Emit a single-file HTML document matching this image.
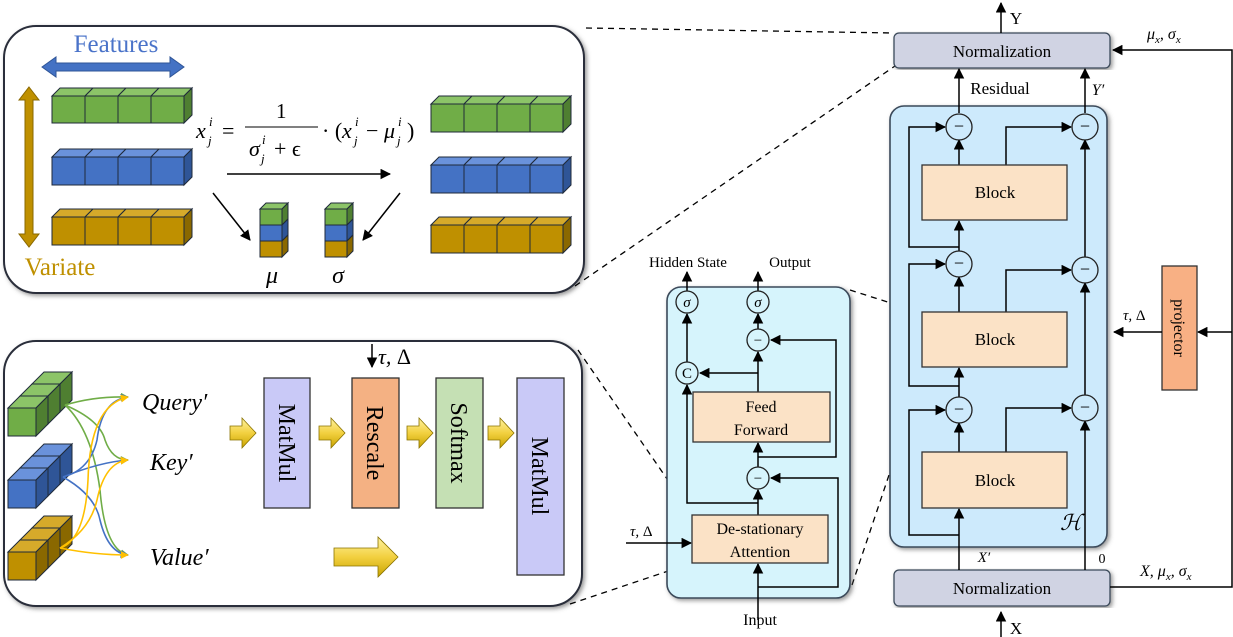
<!DOCTYPE html>
<html><head><meta charset="utf-8">
<style>
html,body{margin:0;padding:0;background:#fff;}
svg{display:block;font-family:"Liberation Serif",serif;}
</style></head>
<body>
<svg id="s" width="1233" height="637" viewBox="0 0 1233 637" xmlns="http://www.w3.org/2000/svg">
<defs>
<marker id="ah" viewBox="0 0 10 10" refX="9" refY="5" markerWidth="7" markerHeight="7" orient="auto-start-reverse"><path d="M0,0 L10,5 L0,10 z" fill="#000"/></marker>
<marker id="ahg" viewBox="0 0 10 10" refX="9" refY="5" markerWidth="5" markerHeight="5" orient="auto"><path d="M0,0 L10,5 L0,10 z" fill="#70AD47"/></marker>
<marker id="ahb" viewBox="0 0 10 10" refX="9" refY="5" markerWidth="5" markerHeight="5" orient="auto"><path d="M0,0 L10,5 L0,10 z" fill="#4472C4"/></marker>
<marker id="ahy" viewBox="0 0 10 10" refX="9" refY="5" markerWidth="5" markerHeight="5" orient="auto"><path d="M0,0 L10,5 L0,10 z" fill="#FFC000"/></marker>
<linearGradient id="yel" x1="0" y1="0" x2="0" y2="1"><stop offset="0" stop-color="#fff3a0"/><stop offset="0.5" stop-color="#f2d040"/><stop offset="1" stop-color="#c9a400"/></linearGradient>
<filter id="sh" x="-5%" y="-5%" width="110%" height="110%"><feDropShadow dx="2" dy="2" stdDeviation="2" flood-color="#555" flood-opacity="0.6"/></filter>
</defs>

<rect x="4" y="26" width="580" height="267" rx="32" fill="#fff" stroke="#2a2f3a" stroke-width="2" filter="url(#sh)"/>
<rect x="4" y="341" width="578" height="265" rx="32" fill="#fff" stroke="#2a2f3a" stroke-width="2" filter="url(#sh)"/>

<g stroke="#000" stroke-width="1.3" stroke-dasharray="6,5" fill="none">
<line x1="586" y1="28" x2="893" y2="33"/>
<line x1="575" y1="286" x2="895" y2="66"/>
<line x1="578" y1="350" x2="692" y2="515"/>
<line x1="570" y1="604" x2="692" y2="563"/>
<line x1="850" y1="290" x2="922" y2="313"/>
<line x1="852" y1="585" x2="925" y2="368"/>
</g>

<text x="116" y="52" font-size="25" fill="#4a73c9" text-anchor="middle">Features</text>
<path d="M42,67 L56,57 L56,63 L170,63 L170,57 L184,67 L170,77 L170,71 L56,71 L56,77 Z" fill="#4472C4" stroke="#2f5597" stroke-width="1"/>
<path d="M29,87 L39,100 L33,100 L33,234 L39,234 L29,247 L19,234 L25,234 L25,100 L19,100 Z" fill="#BF9000" stroke="#8a6800" stroke-width="1"/>
<text x="60" y="275" font-size="25" fill="#BF9000" text-anchor="middle">Variate</text>
<g id="cubes"></g>

<!-- formula -->
<g font-size="22" font-style="italic">
<text x="196" y="138">x</text>
<text x="208" y="145" font-size="13">j</text>
<text x="209" y="126" font-size="13">i</text>
<text x="222" y="138" font-style="normal">=</text>
<text x="276" y="118" font-style="normal" font-size="21">1</text>
<line x1="245" y1="127" x2="318" y2="127" stroke="#000" stroke-width="1"/>
<text x="249" y="156">σ</text>
<text x="261" y="163" font-size="13">j</text>
<text x="262" y="144" font-size="13">i</text>
<text x="274" y="156" font-style="normal">+ ϵ</text>
<text x="322" y="138" font-style="normal">· (</text>
<text x="342" y="138">x</text>
<text x="354" y="145" font-size="13">j</text>
<text x="355" y="126" font-size="13">i</text>
<text x="366" y="138" font-style="normal">−</text>
<text x="384" y="138">μ</text>
<text x="397" y="145" font-size="13">j</text>
<text x="398" y="126" font-size="13">i</text>
<text x="407" y="138" font-style="normal">)</text>
</g>
<line x1="227" y1="174" x2="390" y2="174" stroke="#000" stroke-width="1.5" marker-end="url(#ah)"/>
<line x1="213" y1="193" x2="250" y2="240" stroke="#000" stroke-width="1.5" marker-end="url(#ah)"/>
<line x1="400" y1="193" x2="363" y2="240" stroke="#000" stroke-width="1.5" marker-end="url(#ah)"/>
<text x="272" y="283" font-size="24" font-style="italic" text-anchor="middle">μ</text>
<text x="338" y="283" font-size="24" font-style="italic" text-anchor="middle">σ</text>

<g fill="none" stroke-width="1.6">
<path d="M65,405 Q95,396 128,397" stroke="#70AD47" marker-end="url(#ahg)"/>
<path d="M65,405 Q100,420 105,440 Q112,460 128,460" stroke="#70AD47" marker-end="url(#ahg)"/>
<path d="M65,405 Q92,430 100,490 Q105,550 128,555" stroke="#70AD47" marker-end="url(#ahg)"/>
<path d="M63,477 Q90,470 97,440 Q102,400 128,397" stroke="#4472C4" marker-end="url(#ahb)"/>
<path d="M63,477 Q100,462 128,460" stroke="#4472C4" marker-end="url(#ahb)"/>
<path d="M63,477 Q95,495 100,520 Q108,553 128,555" stroke="#4472C4" marker-end="url(#ahb)"/>
<path d="M60,548 Q85,540 88,480 Q90,405 128,397" stroke="#FFC000" marker-end="url(#ahy)"/>
<path d="M60,548 Q90,530 97,500 Q105,462 128,460" stroke="#FFC000" marker-end="url(#ahy)"/>
<path d="M60,548 Q95,555 128,555" stroke="#FFC000" marker-end="url(#ahy)"/>
</g>
<g font-size="24" font-style="italic">
<text x="142" y="410">Query′</text>
<text x="150" y="470">Key′</text>
<text x="150" y="565">Value′</text>
</g>
<rect x="264" y="378" width="46" height="130" fill="#c9c9f7" stroke="#333" stroke-width="1.3"/>
<rect x="352" y="378" width="47" height="130" fill="#f4b183" stroke="#333" stroke-width="1.3"/>
<rect x="436" y="378" width="47" height="130" fill="#c5e0b4" stroke="#333" stroke-width="1.3"/>
<rect x="517" y="378" width="47" height="197" fill="#c9c9f7" stroke="#333" stroke-width="1.3"/>
<g font-size="24" text-anchor="middle">
<text transform="translate(279,443) rotate(90)">MatMul</text>
<text transform="translate(367,443) rotate(90)">Rescale</text>
<text transform="translate(451,443) rotate(90)">Softmax</text>
<text transform="translate(532,476) rotate(90)">MatMul</text>
</g>
<line x1="372" y1="344" x2="372" y2="367" stroke="#000" stroke-width="1.5" marker-end="url(#ah)"/>
<text x="378" y="364" font-size="22" font-style="italic">τ, <tspan font-style="normal">Δ</tspan></text>
<g fill="url(#yel)" stroke="#8a7300" stroke-width="0.8">
<path d="M230,426 L242,426 L242,418 L256,433 L242,448 L242,440 L230,440 Z"/>
<path d="M319,426 L331,426 L331,418 L345,433 L331,448 L331,440 L319,440 Z"/>
<path d="M407,426 L419,426 L419,418 L433,433 L419,448 L419,440 L407,440 Z"/>
<path d="M488,426 L500,426 L500,418 L514,433 L500,448 L500,440 L488,440 Z"/>
<path d="M334,548 L378,548 L378,537 L398,557 L378,577 L378,566 L334,566 Z"/>
</g>

<rect x="667" y="287" width="183" height="311" rx="14" fill="#d6f4fc" stroke="#3a4a5a" stroke-width="1.6" filter="url(#sh)"/>
<text x="688" y="267" font-size="15" text-anchor="middle">Hidden State</text>
<text x="790" y="267" font-size="15" text-anchor="middle">Output</text>
<g stroke="#000" stroke-width="1.5" fill="none">
<line x1="687" y1="291" x2="687" y2="272" marker-end="url(#ah)"/>
<line x1="758" y1="291" x2="758" y2="272" marker-end="url(#ah)"/>
<line x1="758" y1="329" x2="758" y2="314" marker-end="url(#ah)"/>
<line x1="758" y1="392" x2="758" y2="352" marker-end="url(#ah)"/>
<line x1="758" y1="373" x2="700" y2="373" marker-end="url(#ah)"/>
<line x1="687" y1="362" x2="687" y2="314" marker-end="url(#ah)"/>
<polyline points="758,503 687,503 687,385" marker-end="url(#ah)"/>
<line x1="758" y1="467" x2="758" y2="443" marker-end="url(#ah)"/>
<polyline points="758,457 836,457 836,340 771,340" marker-end="url(#ah)"/>
<line x1="758" y1="515" x2="758" y2="490" marker-end="url(#ah)"/>
<polyline points="758,587 838,587 838,478 771,478" marker-end="url(#ah)"/>
<line x1="758" y1="620" x2="758" y2="564" marker-end="url(#ah)"/>
<line x1="626" y1="543" x2="691" y2="543" marker-end="url(#ah)"/>
</g>
<rect x="693" y="392" width="137" height="50" fill="#fbe2c6" stroke="#333" stroke-width="1.3"/>
<rect x="692" y="515" width="136" height="48" fill="#fbe2c6" stroke="#333" stroke-width="1.3"/>
<g font-size="16" text-anchor="middle">
<text x="761" y="412">Feed</text><text x="761" y="435">Forward</text>
<text x="760" y="534">De-stationary</text><text x="760" y="557">Attention</text>
<text x="760" y="625">Input</text>
</g>
<text x="630" y="536" font-size="15" font-style="italic">τ, <tspan font-style="normal">Δ</tspan></text>
<g fill="#d6f4fc" stroke="#222" stroke-width="1.3">
<circle cx="687" cy="302" r="11"/><circle cx="758" cy="302" r="11"/>
<circle cx="758" cy="340" r="11"/><circle cx="687" cy="373" r="11"/><circle cx="758" cy="478" r="11"/>
</g>
<g font-size="15" text-anchor="middle">
<text x="687" y="307" font-style="italic">σ</text><text x="758" y="307" font-style="italic">σ</text>
<text x="758" y="345">−</text><text x="687" y="378">C</text><text x="758" y="483">−</text>
</g>

<rect x="890" y="106" width="217" height="441" rx="14" fill="#cdeafc" stroke="#3a4a5a" stroke-width="1.6" filter="url(#sh)"/>
<rect x="894" y="33" width="216" height="35" rx="5" fill="#d0d3e3" stroke="#3a4a5a" stroke-width="1.3" filter="url(#sh)"/>
<rect x="894" y="570" width="216" height="36" rx="5" fill="#d0d3e3" stroke="#3a4a5a" stroke-width="1.3" filter="url(#sh)"/>
<rect x="1162" y="266" width="35" height="124" fill="#f8b084" stroke="#333" stroke-width="1.3"/>
<g stroke="#000" stroke-width="1.5" fill="none">
<line x1="1001" y1="33" x2="1001" y2="3" marker-end="url(#ah)"/>
<line x1="1001" y1="637" x2="1001" y2="612" marker-end="url(#ah)"/>
<polyline points="1110,587 1232,587 1232,50 1113,50" marker-end="url(#ah)"/>
<line x1="1232" y1="332" x2="1198" y2="332" marker-end="url(#ah)"/>
<line x1="1162" y1="332" x2="1114" y2="332" marker-end="url(#ah)"/>
<line x1="959" y1="570" x2="959" y2="509" marker-end="url(#ah)"/>
<polyline points="959,535 909,535 909,410 945,410" marker-end="url(#ah)"/>
<line x1="959" y1="452" x2="959" y2="423" marker-end="url(#ah)"/>
<line x1="959" y1="397" x2="959" y2="368" marker-end="url(#ah)"/>
<polyline points="959,386 909,386 909,264 945,264" marker-end="url(#ah)"/>
<line x1="959" y1="312" x2="959" y2="277" marker-end="url(#ah)"/>
<line x1="959" y1="251" x2="959" y2="221" marker-end="url(#ah)"/>
<polyline points="959,247 909,247 909,127 945,127" marker-end="url(#ah)"/>
<line x1="959" y1="165" x2="959" y2="140" marker-end="url(#ah)"/>
<line x1="959" y1="113" x2="959" y2="69" marker-end="url(#ah)"/>
<line x1="1085" y1="570" x2="1085" y2="421" marker-end="url(#ah)"/>
<line x1="1085" y1="395" x2="1085" y2="283" marker-end="url(#ah)"/>
<line x1="1085" y1="257" x2="1085" y2="140" marker-end="url(#ah)"/>
<line x1="1085" y1="113" x2="1085" y2="69" marker-end="url(#ah)"/>
<polyline points="1006,452 1006,408 1071,408" marker-end="url(#ah)"/>
<polyline points="1006,312 1006,270 1071,270" marker-end="url(#ah)"/>
<polyline points="1006,165 1006,127 1071,127" marker-end="url(#ah)"/>
</g>
<g fill="#fbe2c6" stroke="#333" stroke-width="1.3">
<rect x="922" y="165" width="145" height="55"/>
<rect x="922" y="312" width="145" height="55"/>
<rect x="922" y="452" width="145" height="56"/>
</g>
<g fill="#cdeafc" stroke="#222" stroke-width="1.3">
<circle cx="959" cy="127" r="13"/><circle cx="1085" cy="127" r="13"/>
<circle cx="959" cy="264" r="13"/><circle cx="1085" cy="270" r="13"/>
<circle cx="959" cy="410" r="13"/><circle cx="1085" cy="408" r="13"/>
</g>
<g font-size="18" text-anchor="middle">
<text x="959" y="132">−</text><text x="1085" y="132">−</text>
<text x="959" y="269">−</text><text x="1085" y="275">−</text>
<text x="959" y="415">−</text><text x="1085" y="413">−</text>
</g>
<g font-size="17" text-anchor="middle">
<text x="1002" y="57">Normalization</text>
<text x="1002" y="594">Normalization</text>
<text x="995" y="198">Block</text>
<text x="995" y="345">Block</text>
<text x="995" y="486">Block</text>
<text x="1016" y="24">Y</text>
<text x="1016" y="634">X</text>
<text x="1000" y="94">Residual</text>
</g>
<text x="1098" y="95" font-size="16" font-style="italic" text-anchor="middle">Y′</text>
<text x="984" y="562" font-size="15" font-style="italic" text-anchor="middle">X′</text>
<text x="1102" y="563" font-size="14" text-anchor="middle">0</text>
<text x="1060" y="530" font-size="22" font-style="italic" font-family="DejaVu Serif,serif">ℋ</text>
<text x="1147" y="39" font-size="16" font-style="italic">μ<tspan font-size="11" dy="4">x</tspan><tspan dy="-4">, σ</tspan><tspan font-size="11" dy="4">x</tspan></text>
<text x="1140" y="576" font-size="16" font-style="italic">X, μ<tspan font-size="11" dy="4">x</tspan><tspan dy="-4">, σ</tspan><tspan font-size="11" dy="4">x</tspan></text>
<text x="1123" y="320" font-size="15" font-style="italic">τ, <tspan font-style="normal">Δ</tspan></text>
<text transform="translate(1174,328) rotate(90)" font-size="16" text-anchor="middle">projector</text>
</svg>
<script>
var NS="http://www.w3.org/2000/svg",g=document.getElementById("cubes");
function p(pts,f){var e=document.createElementNS(NS,"polygon");e.setAttribute("points",pts);e.setAttribute("fill",f);e.setAttribute("stroke","#1f2a3a");e.setAttribute("stroke-width","1");g.appendChild(e);}
var C={g:["#70AD47","#8cc468","#4f7f31"],b:["#4472C4","#6a92db","#2f5597"],y:["#BF9000","#d6aa2a","#8a6800"]};
function row(x,y,w,h,d,n,c){for(var i=0;i<n;i++){var a=x+i*w;p(a+","+y+" "+(a+d)+","+(y-d)+" "+(a+w+d)+","+(y-d)+" "+(a+w)+","+y,c[1]);}
var e=x+n*w;p(e+","+y+" "+(e+d)+","+(y-d)+" "+(e+d)+","+(y+h-d)+" "+e+","+(y+h),c[2]);
for(var i=0;i<n;i++){p((x+i*w)+","+y+" "+(x+(i+1)*w)+","+y+" "+(x+(i+1)*w)+","+(y+h)+" "+(x+i*w)+","+(y+h),c[0]);}}
row(52,96,33,27,8,4,C.g);row(52,157,33,28,8,4,C.b);row(52,217,33,28,8,4,C.y);
row(431,104,33,28,8,4,C.g);row(431,165,33,28,8,4,C.b);row(431,225,33,28,8,4,C.y);
function stk(x,y,w,h,d){var cs=[C.g,C.b,C.y];for(var i=0;i<3;i++){var yy=y+i*h;if(i==0)p(x+","+yy+" "+(x+d)+","+(yy-d)+" "+(x+w+d)+","+(yy-d)+" "+(x+w)+","+yy,cs[i][1]);
p((x+w)+","+yy+" "+(x+w+d)+","+(yy-d)+" "+(x+w+d)+","+(yy+h-d)+" "+(x+w)+","+(yy+h),cs[i][2]);
p(x+","+yy+" "+(x+w)+","+yy+" "+(x+w)+","+(yy+h)+" "+x+","+(yy+h),cs[i][0]);}}
stk(260,209,22,16,6);stk(325,209,22,16,6);
function col(x,y,s,c){var d=12;for(var k=2;k>=0;k--){var ox=x+k*d,oy=y-k*d;
p(ox+","+oy+" "+(ox+d)+","+(oy-d)+" "+(ox+s+d)+","+(oy-d)+" "+(ox+s)+","+oy,c[1]);
p((ox+s)+","+oy+" "+(ox+s+d)+","+(oy-d)+" "+(ox+s+d)+","+(oy+s-d)+" "+(ox+s)+","+(oy+s),c[2]);
p(ox+","+oy+" "+(ox+s)+","+oy+" "+(ox+s)+","+(oy+s)+" "+ox+","+(oy+s),c[0]);}}
col(8,408,28,C.g);col(8,480,28,C.b);col(8,552,28,C.y);
</script>
</body></html>
